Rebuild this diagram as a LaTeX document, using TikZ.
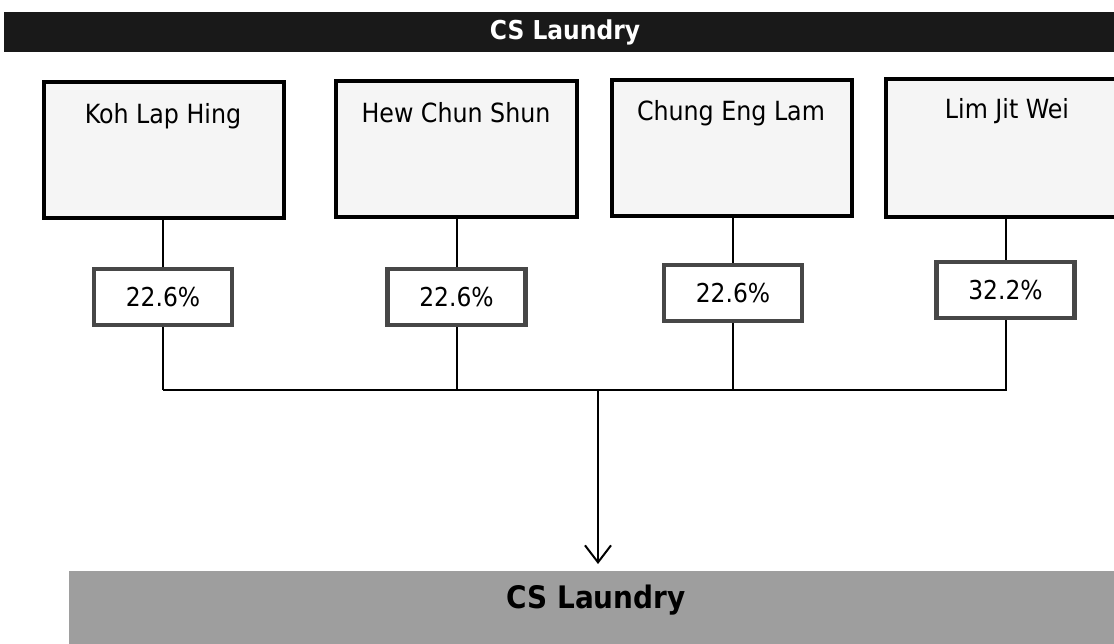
\documentclass[tikz,border=0pt]{standalone}
\usepackage{fontspec}
\newfontfamily\labelfont{DejaVu Sans Condensed}
\usetikzlibrary{arrows.meta}

\begin{document}
\begin{tikzpicture}[x=1pt,y=-1pt,
		ownerbox/.style={draw=black,line width=4pt,fill=black!4,minimum width=#1,minimum height=136pt,inner sep=0pt},
		ownername/.style={anchor=base,font=\labelfont\fontsize{26.4}{30}\selectfont},
		sharebox/.style={draw=black!72,line width=4.5pt,fill=white,minimum width=138pt,minimum height=56pt,inner sep=0pt,font=\labelfont\fontsize{26}{30}\selectfont},
		link/.style={line width=2pt},
		bar/.style={anchor=north west,inner sep=0pt,minimum width=#1},
		bartext/.style={font=\labelfont\bfseries\fontsize{26}{30}\selectfont}]
	\useasboundingbox (0,0) rectangle (1114,643);
	% heading
	\node[bar=1115pt,fill=black!90,minimum height=40pt] (topbar) at (4,12) {};
	\node[bartext,text=white] (title) at (565,32) {CS Laundry};
	% owners
	\node[ownerbox=240pt] (koh) at (163.5,149.5) {};
	\node[ownerbox=241pt] (hew) at (456.5,149) {};
	\node[ownerbox=240pt] (chung) at (732,147.5) {};
	\node[ownerbox=242pt,minimum height=138pt] (lim) at (1007,147.5) {};
	\node[ownername] (kohname) at (163,123) {Koh Lap Hing};
	\node[ownername] (hewname) at (456,122) {Hew Chun Shun};
	\node[ownername] (chungname) at (731,120) {Chung Eng Lam};
	\node[ownername] (limname) at (1007,118) {Lim Jit Wei};
	% shares
	\node[sharebox] (kohshare) at (163,297) {22.6\%};
	\node[sharebox] (hewshare) at (456.5,297) {22.6\%};
	\node[sharebox] (chungshare) at (733,293) {22.6\%};
	\node[sharebox] (limshare) at (1005.5,290) {32.2\%};
	% company
	\node[bar=1060pt,fill=black!38,minimum height=80pt] (base) at (69,571) {};
	\node[bartext,font=\labelfont\bfseries\fontsize{31}{36}\selectfont] (baselabel) at (596,600) {CS Laundry};
	\coordinate (busleft) at (163,390);
	\coordinate (busright) at (1007,390);
	\coordinate (split) at (598,390);
	\foreach \o/\s in {koh/kohshare,hew/hewshare,chung/chungshare,lim/limshare}{
		\draw[link] (\o.south -| \s) -- (\s.north);
		\draw[link] (\s.south) -- (\s.south |- busleft);
	}
	\draw[link] (busleft) -- (busright);
	\draw[link,-{Straight Barb[length=17pt,width=26pt,line width=2pt]},shorten >=7pt] (split) -- (split |- base.north);
\end{tikzpicture}
\end{document}
